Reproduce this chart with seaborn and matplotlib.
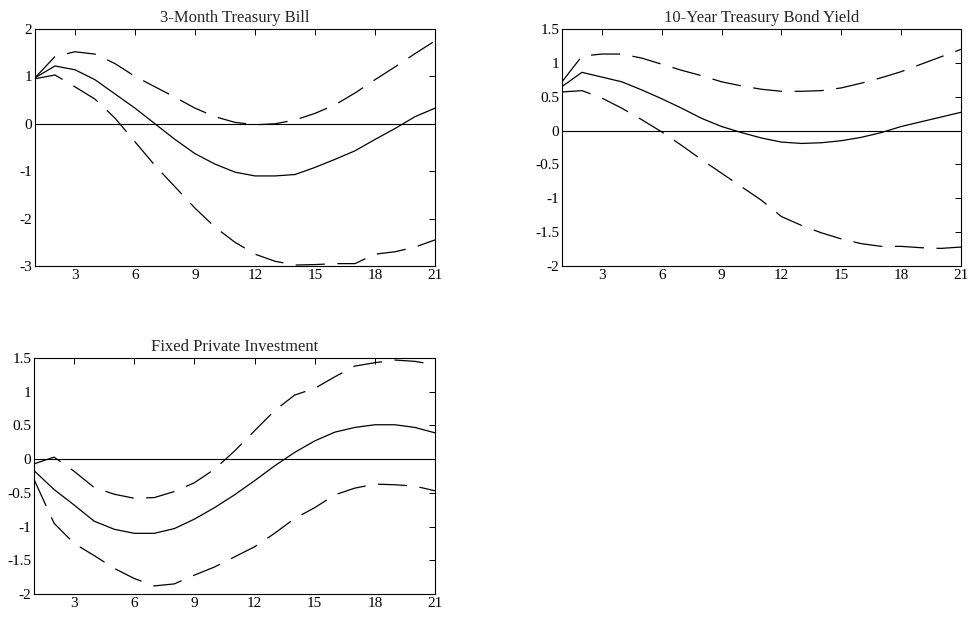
import numpy as np
import pandas as pd
import matplotlib
matplotlib.use("Agg")
import matplotlib.pyplot as plt
import seaborn as sns

horizon = list(range(1, 22))

tbill_mid = [0.97, 1.22, 1.14, 0.93, 0.63, 0.33, 0.0, -0.33, -0.63, -0.85, -1.02,
             -1.1, -1.1, -1.07, -0.92, -0.75, -0.57, -0.33, -0.1, 0.15, 0.33]
tbill_up = [0.97, 1.42, 1.52, 1.47, 1.27, 1.0, 0.78, 0.56, 0.33, 0.15, 0.03,
            -0.02, 0.0, 0.08, 0.22, 0.4, 0.65, 0.93, 1.2, 1.48, 1.75]
tbill_lo = [0.95, 1.03, 0.78, 0.52, 0.12, -0.38, -0.88, -1.33, -1.78, -2.18, -2.5,
            -2.75, -2.9, -2.98, -2.97, -2.95, -2.95, -2.75, -2.7, -2.6, -2.45]

bond_mid = [0.65, 0.86, 0.79, 0.72, 0.6, 0.47, 0.33, 0.18, 0.06, -0.03, -0.11,
            -0.17, -0.19, -0.18, -0.15, -0.1, -0.03, 0.06, 0.13, 0.2, 0.27]
bond_up = [0.72, 1.1, 1.13, 1.13, 1.07, 0.98, 0.89, 0.81, 0.72, 0.66, 0.61,
           0.58, 0.58, 0.59, 0.63, 0.7, 0.78, 0.87, 0.98, 1.09, 1.2]
bond_lo = [0.57, 0.59, 0.48, 0.33, 0.16, -0.02, -0.22, -0.43, -0.63, -0.83, -1.03,
           -1.27, -1.4, -1.51, -1.6, -1.67, -1.71, -1.71, -1.73, -1.74, -1.72]

inv_mid = [-0.17, -0.45, -0.68, -0.92, -1.04, -1.1, -1.1, -1.03, -0.89, -0.72, -0.53,
           -0.32, -0.1, 0.1, 0.27, 0.4, 0.47, 0.51, 0.51, 0.47, 0.39]
inv_up = [-0.07, 0.03, -0.18, -0.42, -0.52, -0.58, -0.57, -0.48, -0.35, -0.15, 0.12,
          0.42, 0.72, 0.95, 1.05, 1.22, 1.38, 1.43, 1.47, 1.45, 1.4]
inv_lo = [-0.3, -0.95, -1.25, -1.43, -1.62, -1.77, -1.88, -1.85, -1.72, -1.6, -1.45,
          -1.3, -1.1, -0.88, -0.72, -0.53, -0.43, -0.37, -0.38, -0.4, -0.47]

titles = ["3-Month Treasury Bill", "10-Year Treasury Bond Yield", "Fixed Private Investment"]
xticks = [3, 6, 9, 12, 15, 18, 21]
yticks_list = [[-3, -2, -1, 0, 1, 2],
               [-2, -1.5, -1, -0.5, 0, 0.5, 1, 1.5],
               [-2, -1.5, -1, -0.5, 0, 0.5, 1, 1.5]]
ylims = [(-3, 2), (-2, 1.5), (-2, 1.5)]

sns.set_style("white")
plt.rcParams["font.family"] = ["Liberation Serif", "DejaVu Serif"]
plt.rcParams["lines.scale_dashes"] = False

fig = plt.figure(figsize=(9.72, 6.18), dpi=100)
positions = [
    [35 / 972, 1 - 266 / 618, 400 / 972, 237 / 618],
    [562 / 972, 1 - 266 / 618, 399 / 972, 237 / 618],
    [34 / 972, 1 - 594 / 618, 401 / 972, 236 / 618],
]
series = [(tbill_mid, tbill_up, tbill_lo), (bond_mid, bond_up, bond_lo), (inv_mid, inv_up, inv_lo)]

def fmt(v):
    if float(v).is_integer():
        return str(int(v))
    return ("%g" % v)

for i in range(3):
    ax = fig.add_axes(positions[i])
    mid, up, lo = series[i]
    df = pd.DataFrame({"h": horizon, "mid": mid, "up": up, "lo": lo})
    ax.axhline(0, color="black", lw=0.8)
    sns.lineplot(data=df, x="h", y="mid", ax=ax, color="black", lw=0.9)
    for col in ["up", "lo"]:
        sns.lineplot(data=df, x="h", y=col, ax=ax, color="black", lw=0.9)
        ax.lines[-1].set_linestyle((0, (21, 9)))
    ax.set_xlim(1, 21)
    ax.set_ylim(*ylims[i])
    ax.set_xticks(xticks)
    ax.set_xticklabels([str(t) for t in xticks])
    ax.set_yticks(yticks_list[i])
    ax.set_yticklabels([fmt(t) for t in yticks_list[i]])
    ax.set_xlabel("")
    ax.set_ylabel("")
    ax.set_title(titles[i], fontsize=12, pad=5)
    ax.tick_params(direction="in", length=4, width=0.7, top=True, right=True,
                   labelsize=11, pad=2, colors="black")
    for s in ax.spines.values():
        s.set_color("black")
        s.set_linewidth(0.8)

fig.savefig("out.png", dpi=100)
